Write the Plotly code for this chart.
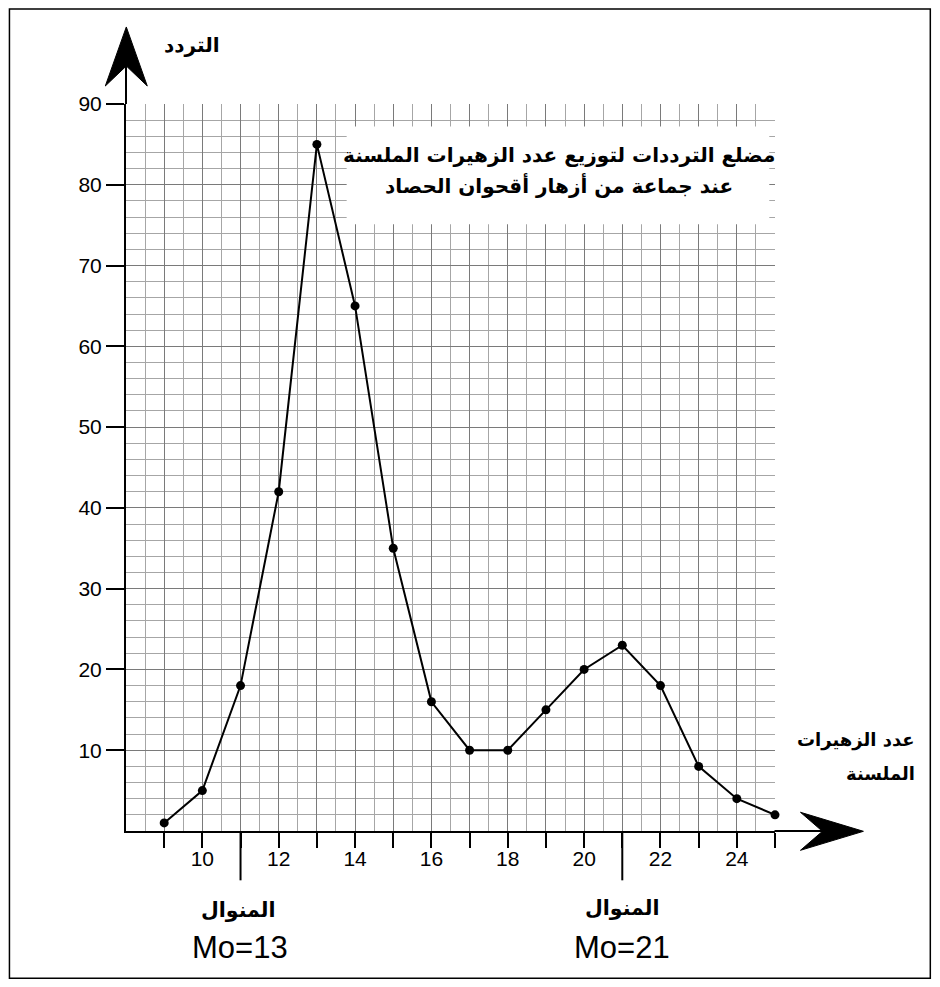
import plotly.graph_objects as go

# ---------------- data ----------------
x_values = [9, 10, 11, 12, 13, 14, 15, 16, 17, 18, 19, 20, 21, 22, 23, 24, 25]
frequencies = [1, 5, 18, 42, 85, 65, 35, 16, 10, 10, 15, 20, 23, 18, 8, 4, 2]
x_tick_vals = [9, 10, 11, 12, 13, 14, 15, 16, 17, 18, 19, 20, 21, 22, 23, 24, 25]
x_tick_text = ["", "10", "", "12", "", "14", "", "16", "", "18", "", "20", "", "22", "", "24", ""]
y_tick_vals = [10, 20, 30, 40, 50, 60, 70, 80, 90]
y_tick_text = ["10", "20", "30", "40", "50", "60", "70", "80", "90"]
mode_marks = [11, 21]
mode_labels = ["Mo=13", "Mo=21"]
mode_word = "المنوال"
y_title = "التردد"
x_title_lines = ["عدد الزهيرات", "الملسنة"]
title_lines = ["مضلع الترددات لتوزيع عدد الزهيرات الملسنة", "عند جماعة من أزهار أقحوان الحصاد"]

# ---------------- geometry (page pixels) ----------------
W, H = 924, 971
OFF = 8  # body margin of the html page
L, R, T, B = 125.7, 775.5, 104.0, 830.7  # plot area in page pixels


def px(xp):
    return (xp - L) / (R - L)


def py(yp):
    return (B - yp) / (B - T)


LATIN = "Liberation Sans, Arial, sans-serif"
ARABIC = "DejaVu Sans, Liberation Sans, sans-serif"

fig = go.Figure()
fig.add_trace(go.Scatter(
    x=x_values, y=frequencies, mode="lines+markers",
    line=dict(color="black", width=2),
    marker=dict(color="black", size=9),
    cliponaxis=False, showlegend=False,
))

shapes = []
# white box behind the title
shapes.append(dict(type="rect", xref="x", yref="y", x0=13.78, x1=24.85, y0=75.1, y1=87.2,
                   fillcolor="white", line=dict(width=0), layer="between"))
# axis extensions and arrowheads
shapes.append(dict(type="line", xref="paper", yref="paper", x0=px(775), x1=px(826), y0=py(B), y1=py(B),
                   line=dict(color="black", width=2)))
shapes.append(dict(type="path", xref="paper", yref="paper",
                   path="M {} {} L {} {} L {} {} L {} {} Z".format(
                       px(864), py(831), px(801), py(812), px(823), py(831), px(801), py(850)),
                   fillcolor="black", line=dict(color="black", width=1)))
shapes.append(dict(type="line", xref="paper", yref="paper", x0=px(L), x1=px(L), y0=py(T), y1=py(66),
                   line=dict(color="black", width=2)))
shapes.append(dict(type="path", xref="paper", yref="paper",
                   path="M {} {} L {} {} L {} {} L {} {} Z".format(
                       px(126), py(27), px(105), py(86), px(126), py(66), px(147), py(86)),
                   fillcolor="black", line=dict(color="black", width=1)))
# long ticks marking the modes
for m in mode_marks:
    shapes.append(dict(type="line", xref="x", yref="paper", x0=m, x1=m, y0=0, y1=py(880),
                       line=dict(color="black", width=2)))
# outer frame
shapes.append(dict(type="rect", xref="paper", yref="paper", x0=px(9), x1=px(931), y0=py(978), y1=py(9),
                   line=dict(color="black", width=1.5), fillcolor="rgba(0,0,0,0)"))

annotations = []


def ann(text, xp, yp, size, family, bold=False, xanchor="center"):
    annotations.append(dict(
        text="<b>{}</b>".format(text) if bold else text,
        xref="paper", yref="paper", x=px(xp), y=py(yp),
        xanchor=xanchor, yanchor="middle", showarrow=False,
        font=dict(size=size, family=family, color="black")))


ann(y_title, 192, 45, 20, ARABIC, bold=True)
ann(title_lines[0], 559, 155, 20, ARABIC, bold=True)
ann(title_lines[1], 559, 185, 20, ARABIC, bold=True)
ann(x_title_lines[0], 918, 740, 18, ARABIC, bold=True, xanchor="right")
ann(x_title_lines[1], 918, 773, 18, ARABIC, bold=True, xanchor="right")
ann(mode_word, 238, 910, 20.5, ARABIC, bold=True)
ann(mode_word, 623, 908, 20.5, ARABIC, bold=True)
ann(mode_labels[0], 240, 947, 31, LATIN)
ann(mode_labels[1], 622, 947, 31, LATIN)

fig.update_layout(
    width=W, height=H,
    margin=dict(l=L - OFF, r=W - (R - OFF), t=T - OFF, b=H - (B - OFF), pad=0),
    paper_bgcolor="white", plot_bgcolor="white",
    shapes=shapes, annotations=annotations,
    xaxis=dict(range=[8, 25], showline=True, linecolor="black", linewidth=2,
               ticks="outside", ticklen=15, tickwidth=2, tickcolor="black",
               tickmode="array", tickvals=x_tick_vals, ticktext=x_tick_text,
               ticklabelstandoff=-7,
               tickfont=dict(size=21, family=LATIN, color="black"),
               showgrid=True, gridcolor="#7a7a7a", gridwidth=1, zeroline=False,
               minor=dict(dtick=0.5, tick0=8, showgrid=True, gridcolor="#a6a6a6", gridwidth=1, ticks="")),
    yaxis=dict(range=[0, 90], showline=True, linecolor="black", linewidth=2,
               ticks="outside", ticklen=18, tickwidth=2, tickcolor="black",
               tickmode="array", tickvals=y_tick_vals, ticktext=y_tick_text,
               tickfont=dict(size=21, family=LATIN, color="black"),
               showgrid=True, gridcolor="#7a7a7a", gridwidth=1, zeroline=False,
               minor=dict(dtick=2, tick0=0, showgrid=True, gridcolor="#a6a6a6", gridwidth=1, ticks="")),
)

fig.write_html("out.html")
